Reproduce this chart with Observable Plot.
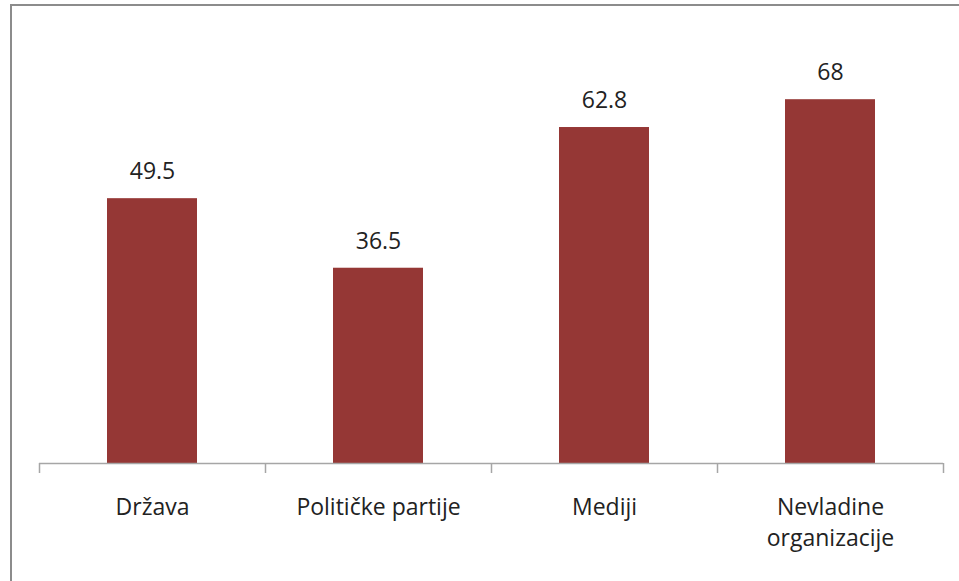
<!DOCTYPE html>
<html><head><meta charset="utf-8">
<script src="https://cdn.jsdelivr.net/npm/d3@7"></script>
<script src="https://cdn.jsdelivr.net/npm/@observablehq/plot@0.6"></script>
<style>
body{margin:0;background:#fff;}
#wrap{position:relative;width:959px;height:581px;overflow:hidden;}
#border{position:absolute;left:10px;top:4px;width:2000px;height:2000px;border-top:2px solid #8c8c8c;border-left:2px solid #8c8c8c;pointer-events:none;}
#wrap svg{position:absolute;left:0;top:0;}
</style></head><body><div id="wrap"><div id="border"></div></div>
<script>
const categories = ["Država", "Političke partije", "Mediji", "Nevladine organizacije"];
const values = [49.5, 36.5, 62.8, 68];
const tickLabels = ["Država", "Političke partije", "Mediji", "Nevladine\norganizacije"];

const data = categories.map((c, i) => ({category: c, value: values[i]}));
const labelOf = d => tickLabels[categories.indexOf(d)];
const half = (959 - 39 - 16) / categories.length / 2;

const chart = Plot.plot({
  width: 959, height: 581,
  marginTop: 35, marginBottom: 118, marginLeft: 39, marginRight: 16,
  style: {fontFamily: "'Open Sans', sans-serif", fontSize: "23px", color: "#222", background: "transparent"},
  x: {domain: categories, padding: 0, label: null},
  y: {domain: [0, 80], axis: null},
  marks: [
    Plot.barY(data, {x: "category", y: "value", fill: "#953735", insetLeft: 68, insetRight: 68}),
    Plot.ruleY([0], {stroke: "#a6a6a6", strokeWidth: 1.5}),
    Plot.axisX({tickSize: 10, tickFormat: () => "", dx: -half, stroke: "#a6a6a6", strokeWidth: 1.5, label: null}),
    Plot.axisX([categories[categories.length - 1]], {tickSize: 10, tickFormat: () => "", dx: half, stroke: "#a6a6a6", strokeWidth: 1.5, label: null}),
    Plot.axisX({tickSize: 0, tickPadding: 29, tickFormat: labelOf, fontSize: 23, lineHeight: 1.35, fill: "#222", label: null}),
    Plot.text(data, {x: "category", y: "value", text: d => String(d.value), dy: -27, lineAnchor: "middle", fontSize: 23, fill: "#222"})
  ]
});
document.getElementById("wrap").appendChild(chart);
</script>
</body></html>
